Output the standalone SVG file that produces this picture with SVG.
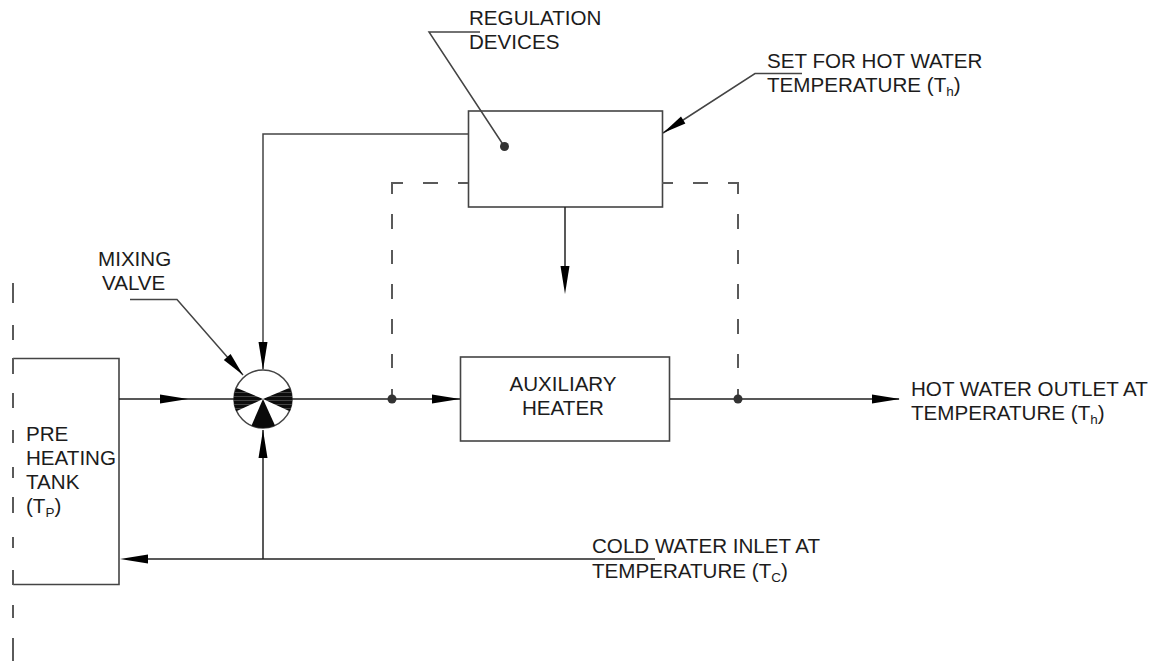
<svg xmlns="http://www.w3.org/2000/svg" width="1156" height="661" viewBox="0 0 1156 661">
<style>
.l{fill:none;stroke:#222;stroke-width:1.5}
.g{fill:none;stroke:#444;stroke-width:1.5}
.d{fill:none;stroke:#5a5a5a;stroke-width:2}
.b{fill:#fff;stroke:#444;stroke-width:1.600}
.h{fill:#000;stroke:none}
.p{fill:#333;stroke:none}
text{font-family:"Liberation Sans",Arial,sans-serif;font-size:20.600px;fill:#1c1c1c}
.s{font-size:13.500px}
</style>
<defs>
<polygon id="ar" class="h" points="0,0 -28,-4.500 -28,4.500"/>
<pattern id="stripe" width="6" height="4" patternUnits="userSpaceOnUse" y="1">
<rect width="6" height="4" fill="#444"/>
<rect width="6" height="3" fill="#0c0c0c"/>
</pattern>
</defs>
<rect width="1156" height="661" fill="#fff"/>
<g id="regulation-devices">
<rect class="b" x="468.500" y="111" width="194" height="96"/>
<text x="469" y="25">REGULATION</text>
<text x="469" y="49">DEVICES</text>
</g>
<g id="set-label">
<text x="767" y="68">SET FOR HOT WATER</text>
<text x="767" y="92">TEMPERATURE (T<tspan class="s" dy="4">h</tspan><tspan dy="-4">)</tspan></text>
</g>
<g id="mixing-valve">
<circle cx="263" cy="399" r="29" fill="#fff" stroke="#444" stroke-width="1.500"/>
<path fill="url(#stripe)" d="M263 399L236.300 387.700A29 29 0 0 0 236.300 411.300ZM263 399L289.700 387.700A29 29 0 0 1 289.700 411.300Z"/>
<path fill="#0a0a0a" d="M263 399L251.500 425.500A29 29 0 0 0 275 425.500Z"/>
<text x="98" y="266">MIXING</text>
<text x="102" y="290">VALVE</text>
</g>
<g id="pre-heating-tank">
<path class="b" d="M13 358.500H119V584.500H13"/>
<text x="26" y="441">PRE</text>
<text x="26" y="465">HEATING</text>
<text x="26" y="489">TANK</text>
<text x="26" y="513">(T<tspan class="s" dy="4">P</tspan><tspan dy="-4">)</tspan></text>
</g>
<g id="auxiliary-heater">
<rect class="b" x="460.500" y="357" width="209" height="84"/>
<text x="563" y="391" text-anchor="middle">AUXILIARY</text>
<text x="563" y="415" text-anchor="middle">HEATER</text>
</g>
<g id="hot-water-outlet">
<text x="911" y="396">HOT WATER OUTLET AT</text>
<text x="911" y="420">TEMPERATURE (T<tspan class="s" dy="4">h</tspan><tspan dy="-4">)</tspan></text>
</g>
<g id="cold-water-inlet">
<text x="592" y="553">COLD WATER INLET AT</text>
<text x="592" y="578">TEMPERATURE (T<tspan class="s" dy="4">C</tspan><tspan dy="-4">)</tspan></text>
</g>
<g id="connectors">
<path class="d" d="M13 283V303M13 325V340M13 358V374M13 393V408M13 430V443M13 467V478M13 497V513M13 537V548M13 570V585M13 605V618M13 638V661"/>
<path class="d" d="M392 399V389M392 368V354M392 334V319M392 299V284M392 264V250M392 229V214M392 194V183H403M423 183H438M458 183H468"/>
<path class="d" d="M738 399V389M738 368V354M738 334V319M738 299V284M738 264V250M738 229V214M738 194V183H728M708 183H693M673 183H662"/>
<path class="l" d="M119 399H234M292 399H460M670 399H899"/>
<path class="g" d="M468 134H263V369"/>
<path class="l" d="M565 207V267"/>
<path class="l" d="M263 430V559"/>
<path class="l" d="M148 559H655"/>
<path class="g" d="M480 32H429L504 146"/>
<path class="g" d="M130 299.500H177L243 375"/>
<path class="g" d="M802 73.500H755L663 133"/>
<use href="#ar" transform="translate(188 399)"/>
<use href="#ar" transform="translate(460 399)"/>
<use href="#ar" transform="translate(900 399)"/>
<use href="#ar" transform="translate(120 559) rotate(180)"/>
<use href="#ar" transform="translate(263 370) rotate(90)"/>
<use href="#ar" transform="translate(263 430) rotate(-90)"/>
<use href="#ar" transform="translate(565 294) rotate(90)"/>
<polygon class="h" points="663,133 681,116.600 685.400,123.400"/>
<polygon class="h" points="243,375 223.800,359.900 230.600,353.900"/>
<circle class="p" cx="504.500" cy="146.500" r="4.500"/>
<circle class="p" cx="392" cy="399" r="4.500"/>
<circle class="p" cx="738" cy="399" r="4.500"/>
</g>
</svg>
